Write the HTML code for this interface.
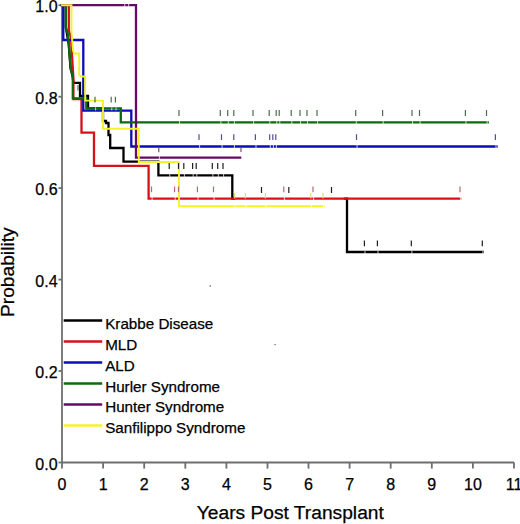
<!DOCTYPE html><html><head><meta charset="utf-8"><style>html,body{margin:0;padding:0;background:#fff;}svg{display:block;}text{font-family:"Liberation Sans",sans-serif;fill:#000;stroke:#000;stroke-width:0.25px;font-variant-ligatures:none;}</style></head><body>
<svg width="520" height="524" viewBox="0 0 520 524">
<rect width="520" height="524" fill="#fff"/>
<g stroke="#6e6e6e" stroke-width="1.8" fill="none">
<path d="M62,5.2 V462.5 H514"/>
<path d="M58.5,462.5 H62"/>
<path d="M58.5,371.0 H62"/>
<path d="M58.5,279.6 H62"/>
<path d="M58.5,188.1 H62"/>
<path d="M58.5,96.7 H62"/>
<path d="M58.5,5.2 H62"/>
<path d="M62.0,462.5 V468.6"/>
<path d="M103.1,462.5 V468.6"/>
<path d="M144.2,462.5 V468.6"/>
<path d="M185.3,462.5 V468.6"/>
<path d="M226.4,462.5 V468.6"/>
<path d="M267.5,462.5 V468.6"/>
<path d="M308.5,462.5 V468.6"/>
<path d="M349.6,462.5 V468.6"/>
<path d="M390.7,462.5 V468.6"/>
<path d="M431.8,462.5 V468.6"/>
<path d="M472.9,462.5 V468.6"/>
<path d="M514.0,462.5 V468.6"/>
</g>
<g font-size="16">
<text x="57.6" y="469.5" text-anchor="end">0.0</text>
<text x="57.6" y="378.0" text-anchor="end">0.2</text>
<text x="57.6" y="286.6" text-anchor="end">0.4</text>
<text x="57.6" y="195.1" text-anchor="end">0.6</text>
<text x="57.6" y="103.7" text-anchor="end">0.8</text>
<text x="57.6" y="12.2" text-anchor="end">1.0</text>
<text x="62.0" y="489.6" text-anchor="middle">0</text>
<text x="103.1" y="489.6" text-anchor="middle">1</text>
<text x="144.2" y="489.6" text-anchor="middle">2</text>
<text x="185.3" y="489.6" text-anchor="middle">3</text>
<text x="226.4" y="489.6" text-anchor="middle">4</text>
<text x="267.5" y="489.6" text-anchor="middle">5</text>
<text x="308.5" y="489.6" text-anchor="middle">6</text>
<text x="349.6" y="489.6" text-anchor="middle">7</text>
<text x="390.7" y="489.6" text-anchor="middle">8</text>
<text x="431.8" y="489.6" text-anchor="middle">9</text>
<text x="472.9" y="489.6" text-anchor="middle">10</text>
<text x="514.0" y="489.6" text-anchor="middle">11</text>
</g>
<text x="196.8" y="519.2" font-size="19.2">Years Post Transplant</text>
<text transform="translate(13.8,317) rotate(-90)" font-size="19.2">Probability</text>
<path d="M62,5.2 H65.8 V27 L68.8,45 L70.5,68 L72.5,76 L73.5,82.9 H80 V96 H88 V108.3 H103 V121 H106 V123 H108.5 V135 H110.2 V148 H123.5 V161.6 H158.4 V175.3 H232.3 V198.7 H234 M345,198.7 H347 V252 H482.7" fill="none" stroke="#000000" stroke-width="2.3" stroke-linejoin="miter" stroke-linecap="square"/>
<path d="M169.8,173.7 V176.9 M179.1,173.7 V176.9 M184.4,173.7 V176.9 M193.2,173.7 V176.9 M196.8,173.7 V176.9 M212.9,173.7 V176.9 M218.3,173.7 V176.9 M223.6,173.7 V176.9 M262.1,197.7 V200.9 M289.4,197.7 V200.9 M332.1,197.7 V200.9 M365.0,250.9 V254.1 M378.0,250.9 V254.1 M411.9,250.9 V254.1 M482.9,250.9 V254.1" fill="none" stroke="#fff" stroke-opacity="0.75" stroke-width="1"/>
<path d="M62,5.2 H68.8 V30 L71,38 L72.3,60 L73.4,78 V99 H81.5 V132.7 H94 V165.8 H148.6 V198.7 H460.2" fill="none" stroke="#d8101a" stroke-width="2.3" stroke-linejoin="miter" stroke-linecap="square"/>
<path d="M152.1,197.1 V200.3 M175.2,197.1 V200.3 M179.1,197.1 V200.3 M198.0,197.1 V200.3 M214.1,197.1 V200.3 M284.4,197.1 V200.3 M313.6,197.1 V200.3 M460.6,197.1 V200.3" fill="none" stroke="#fff" stroke-opacity="0.75" stroke-width="1"/>
<path d="M62,5.2 H63.3 V40 H83.3 V110.7 H131.3 V146.5 H496.5" fill="none" stroke="#0c0cb8" stroke-width="2.3" stroke-linejoin="miter" stroke-linecap="square"/>
<path d="M199.6,144.8 V148.0 M222.1,144.8 V148.0 M234.4,144.8 V148.0 M256.0,144.8 V148.0 M270.3,144.8 V148.0 M273.4,144.8 V148.0 M276.4,144.8 V148.0 M357.1,144.8 V148.0 M496.0,144.8 V148.0" fill="none" stroke="#fff" stroke-opacity="0.75" stroke-width="1"/>
<path d="M62,5.2 H65.8 V28 L68,34 L70,60 L71,70 L72.8,76 V98.3 H86.3 V108.3 H120.8 V122.3 H487.7" fill="none" stroke="#0c6a0c" stroke-width="2.3" stroke-linejoin="miter" stroke-linecap="square"/>
<path d="M95.6,107.3 V110.5 M111.8,107.3 V110.5 M116.0,107.3 V110.5 M179.6,120.7 V123.9 M220.9,120.7 V123.9 M228.3,120.7 V123.9 M234.4,120.7 V123.9 M253.6,120.7 V123.9 M269.8,120.7 V123.9 M276.8,120.7 V123.9 M279.8,120.7 V123.9 M291.8,120.7 V123.9 M300.6,120.7 V123.9 M307.6,120.7 V123.9 M317.6,120.7 V123.9 M356.3,120.7 V123.9 M383.2,120.7 V123.9 M412.6,120.7 V123.9 M420.1,120.7 V123.9 M466.0,120.7 V123.9 M487.1,120.7 V123.9" fill="none" stroke="#fff" stroke-opacity="0.75" stroke-width="1"/>
<path d="M62,5.2 H136 V157.6 H240.8" fill="none" stroke="#660a66" stroke-width="2.3" stroke-linejoin="miter" stroke-linecap="square"/>
<path d="M159.4,156.2 V159.4 M241.6,156.0 V159.2 M124.7,3.6 V6.8 M128.7,3.6 V6.8" fill="none" stroke="#fff" stroke-opacity="0.75" stroke-width="1"/>
<path d="M62,5.2 H71.5 V32 L73,50 L74,53.5 H79.2 V75 L81,76.5 H85.2 V100.6 H103 V128.7 H138.8 V162 H179 V206.2 H323.8" fill="none" stroke="#f6f22a" stroke-width="1.9" stroke-linejoin="miter" stroke-linecap="square"/>
<path d="M235.2,204.6 V207.8 M246.0,204.6 V207.8 M266.0,204.6 V207.8 M311.4,204.6 V207.8 M323.6,204.6 V207.8" fill="none" stroke="#fff" stroke-opacity="0.75" stroke-width="1"/>
<path d="M169.2,163 V169 M178.5,163 V169 M183.8,163 V169 M192.6,163 V169 M196.2,163 V169 M212.3,163 V169 M217.7,163 V169 M223,163 V169 M261.5,187 V193 M288.8,187 V193 M331.5,187 V193 M364.4,240.6 V246.2 M377.4,240.6 V246.2 M411.3,240.6 V246.2 M482.3,240.6 V246.2" fill="none" stroke="#202020" stroke-width="1.2"/>
<path d="M151.5,186.5 V192.3 M174.6,186.5 V192.3 M178.5,186.5 V192.3 M197.4,186.5 V192.3 M213.5,186.5 V192.3 M283.8,186.5 V192.3 M313,186.5 V192.3 M460,186.5 V192.3" fill="none" stroke="#b86a6a" stroke-width="1.2"/>
<path d="M199,134.2 V140 M221.5,134.2 V140 M233.8,134.2 V140 M255.4,134.2 V140 M269.7,134.2 V140 M272.8,134.2 V140 M275.8,134.2 V140 M356.5,134.2 V140 M495.4,134.2 V140" fill="none" stroke="#50508c" stroke-width="1.2"/>
<path d="M95,96.8 V102.6 M111.2,96.8 V102.6 M115.4,96.8 V102.6 M179,110 V116 M220.3,110 V116 M227.7,110 V116 M233.8,110 V116 M253,110 V116 M269.2,110 V116 M276.2,110 V116 M279.2,110 V116 M291.2,110 V116 M300,110 V116 M307,110 V116 M317,110 V116 M355.7,110 V116 M382.6,110 V116 M412,110 V116 M419.5,110 V116 M465.4,110 V116 M486.5,110 V116 M78,85 V90.5" fill="none" stroke="#4a6e4a" stroke-width="1.2"/>
<path d="M158.8,147.8 V152.2 M241,147.6 V152" fill="none" stroke="#7a507a" stroke-width="1.2"/>
<path d="M234.6,193 V198.5 M245.4,193 V198.5 M265.4,193 V198.5 M310.8,193 V198.5 M323,193 V198.5" fill="none" stroke="#e0dc70" stroke-width="1.2"/>
<path d="M63.7,320.6 H102.2" stroke="#000000" stroke-width="2.5"/>
<text x="105.2" y="328.6" font-size="15.2">Krabbe Disease</text>
<path d="M63.7,341.6 H102.2" stroke="#d8101a" stroke-width="2.5"/>
<text x="105.2" y="349.6" font-size="15.2">MLD</text>
<path d="M63.7,362.5 H102.2" stroke="#0c0cb8" stroke-width="2.5"/>
<text x="105.2" y="370.5" font-size="15.2">ALD</text>
<path d="M63.7,383.5 H102.2" stroke="#0c6a0c" stroke-width="2.5"/>
<text x="105.2" y="391.5" font-size="15.2">Hurler Syndrome</text>
<path d="M63.7,404.4 H102.2" stroke="#660a66" stroke-width="2.5"/>
<text x="105.2" y="412.4" font-size="15.2">Hunter Syndrome</text>
<path d="M63.7,425.4 H102.2" stroke="#f6f22a" stroke-width="2.5"/>
<text x="105.2" y="433.4" font-size="15.2">Sanfilippo Syndrome</text>
<rect x="209.6" y="285" width="1.2" height="1.8" fill="#777"/><rect x="274.3" y="344" width="1.6" height="1.2" fill="#888"/>
</svg></body></html>
